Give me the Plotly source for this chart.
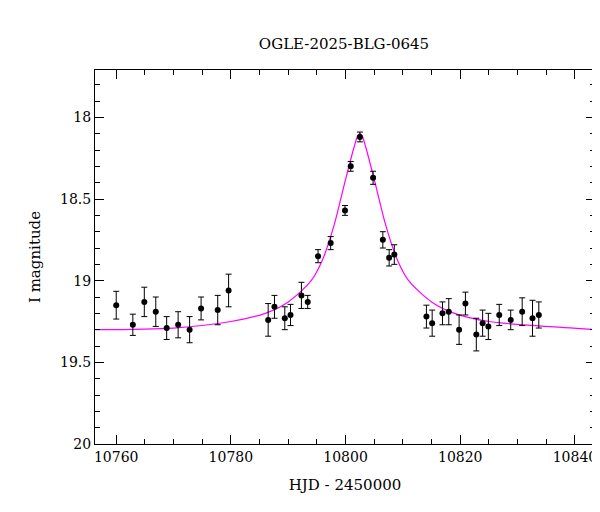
import plotly.graph_objects as go

hjd = [10760.0, 10762.9, 10764.9, 10766.9, 10768.8, 10770.8, 10772.8, 10774.8, 10777.7, 10779.6,
       10786.5, 10787.6, 10789.4, 10790.4, 10792.3, 10793.4, 10795.2, 10797.4, 10799.9, 10800.9,
       10802.5, 10804.8, 10806.5, 10807.6, 10808.5, 10814.1, 10815.1, 10816.9, 10818.0, 10819.8,
       10820.9, 10822.8, 10823.9, 10824.9, 10826.8, 10828.8, 10830.8, 10832.6, 10833.7]
mag = [19.15, 19.27, 19.13, 19.19, 19.29, 19.27, 19.30, 19.17, 19.18, 19.06,
       19.24, 19.16, 19.23, 19.21, 19.09, 19.13, 18.85, 18.77, 18.57, 18.30,
       18.12, 18.37, 18.75, 18.86, 18.84, 19.22, 19.26, 19.20, 19.19, 19.30,
       19.14, 19.33, 19.26, 19.28, 19.21, 19.24, 19.19, 19.23, 19.21]
err = [0.085, 0.065, 0.09, 0.09, 0.07, 0.08, 0.08, 0.07, 0.09, 0.10,
       0.10, 0.07, 0.07, 0.065, 0.08, 0.04, 0.04, 0.04, 0.03, 0.03,
       0.03, 0.04, 0.05, 0.05, 0.06, 0.07, 0.08, 0.07, 0.08, 0.09,
       0.07, 0.10, 0.08, 0.08, 0.065, 0.06, 0.085, 0.11, 0.08]

# model curve
model_t = [10756, 10770, 10780, 10786, 10790, 10794, 10796, 10798, 10800, 10801.5, 10802.1, 10802.5,
           10802.9, 10803.5, 10805, 10807, 10809, 10811, 10815, 10819, 10825, 10835, 10844]
model_m = [19.30, 19.29, 19.25, 19.20, 19.13, 19.00, 18.87, 18.66, 18.38, 18.18, 18.115, 18.10,
           18.115, 18.18, 18.38, 18.66, 18.87, 19.00, 19.13, 19.20, 19.25, 19.28, 19.30]

FONT = "DejaVu Serif"

fig = go.Figure()
fig.add_trace(go.Scatter(
    x=model_t, y=model_m, mode="lines", line=dict(color="#ff00ff", width=1.2, shape="spline", smoothing=0.8),
    hoverinfo="skip", showlegend=False,
))
fig.add_trace(go.Scatter(
    x=hjd, y=mag, mode="markers",
    marker=dict(color="black", size=6),
    error_y=dict(type="data", array=err, color="black", thickness=1, width=3),
    showlegend=False,
))

axis = dict(
    showgrid=False, zeroline=False, showline=True, linecolor="black", linewidth=1,
    mirror="allticks", ticks="inside", ticklen=9, tickcolor="black",
    tickfont=dict(family=FONT, size=14, color="black"),
)
fig.update_xaxes(
    **axis, range=[10756.3, 10843.5], tick0=10760, dtick=20, tickformat="d",
    minor=dict(ticks="inside", ticklen=5, dtick=5, tickcolor="black"),
    title=dict(text="HJD - 2450000", font=dict(family=FONT, size=15, color="black")),
)
fig.update_yaxes(
    **axis, range=[20, 17.71], tick0=18, dtick=0.5,
    minor=dict(ticks="inside", ticklen=5, dtick=0.1, tickcolor="black"),
    title=dict(text="I magnitude", font=dict(family=FONT, size=15, color="black")),
)
fig.update_layout(
    width=600, height=512,
    margin=dict(l=87, r=13, t=62, b=76),
    plot_bgcolor="white", paper_bgcolor="white",
    title=dict(text="OGLE-2025-BLG-0645", x=0.56, y=0.94, xanchor="center",
               font=dict(family=FONT, size=15, color="black")),
)
fig.write_html("out.html")
